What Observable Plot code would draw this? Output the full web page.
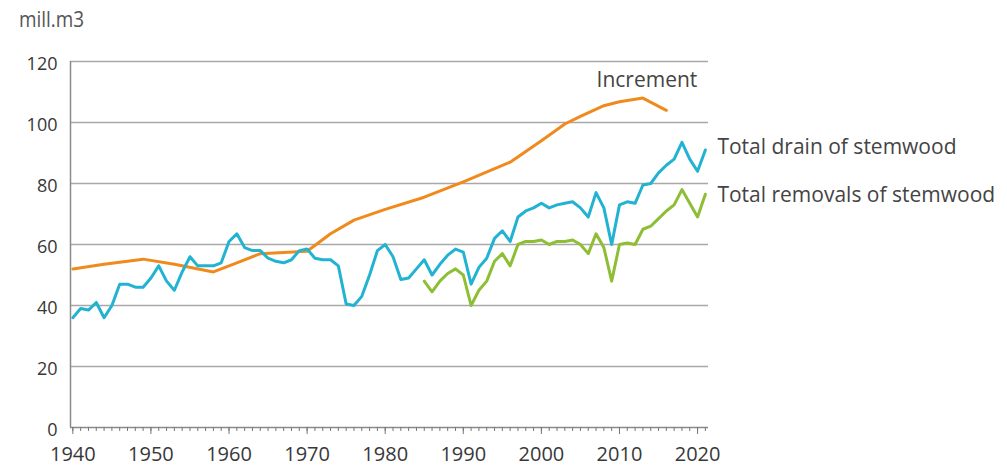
<!DOCTYPE html>
<html>
<head>
<meta charset="utf-8">
<script src="https://cdn.jsdelivr.net/npm/d3@7"></script>
<script src="https://cdn.jsdelivr.net/npm/@observablehq/plot@0.6"></script>
<style>
  html, body { margin: 0; padding: 0; background: #fff; }
  #wrap { position: relative; width: 1007px; height: 471px; }
  #unit { position: absolute; left: 19px; top: 5px; font-family: "Open Sans", sans-serif; font-size: 21px; color: #555; transform: scaleX(0.9); transform-origin: left top; }
  svg { font-family: "Open Sans", sans-serif; }
</style>
</head>
<body>
<div id="wrap"><div id="unit">mill.m3</div><div id="chart"></div></div>
<script>
// Total drain of stemwood (mill. m3), 1940–2021
const drainYears = d3.range(1940, 2022);
const drainValues = [
  36, 39, 38.5, 41, 36, 40, 47, 47, 46, 46,
  49, 53, 48, 45, 51, 56, 53, 53, 53, 54,
  61, 63.5, 59, 58, 58, 55.5, 54.5, 54, 55, 58,
  58.5, 55.5, 55, 55, 53, 40.5, 40, 43, 50, 58,
  60, 56, 48.5, 49, 52, 55, 50, 53.5, 56.5, 58.5,
  57.5, 47, 52.5, 55.5, 62, 64.5, 61, 69, 71, 72,
  73.5, 72, 73, 73.5, 74, 72, 69, 77, 72, 60,
  73, 74, 73.5, 79.5, 80, 83.5, 86, 88, 93.5, 88,
  84, 91
];
// Total removals of stemwood (mill. m3), 1985–2021
const removalYears = d3.range(1985, 2022);
const removalValues = [
  48, 44.5, 48, 50.5, 52, 50, 40, 45, 48, 54.5,
  57, 53, 60, 61, 61, 61.5, 60, 61, 61, 61.5,
  60, 57, 63.5, 59, 48, 60, 60.5, 60, 65, 66,
  68.5, 71, 73, 78, 73.5, 69, 76.5
];
// Increment (mill. m3)
const incrementYears = [1940, 1944, 1949, 1953, 1958, 1961, 1964, 1970, 1973, 1976, 1980, 1985, 1990, 1996, 2000, 2003, 2005, 2008, 2010, 2013, 2016];
const incrementValues = [52, 53.5, 55.2, 53.5, 51, 54, 57, 57.8, 63.5, 68, 71.5, 75.5, 80.5, 87, 94, 99.5, 102, 105.5, 106.8, 108, 104];

const yTicks = [0, 20, 40, 60, 80, 100, 120];
const xMajorTicks = [1940, 1950, 1960, 1970, 1980, 1990, 2000, 2010, 2020];
const xMinorTicks = d3.range(1940, 2022);
const xDomain = [1939.7, 2021.4];
const yDomain = [0, 120];

const seriesNames = ["Increment", "Total drain of stemwood", "Total removals of stemwood"];
const seriesColors = ["#F08A1C", "#22B3D2", "#8DBE34"];

const drain = drainYears.map((year, i) => ({year, value: drainValues[i]}));
const removals = removalYears.map((year, i) => ({year, value: removalValues[i]}));
const increment = incrementYears.map((year, i) => ({year, value: incrementValues[i]}));

const incPeak = increment.reduce((a, b) => (b.value > a.value ? b : a));
const drainEnd = {...drain[drain.length - 1], name: seriesNames[1]};
const removalEnd = {...removals[removals.length - 1], name: seriesNames[2]};

const labelStyle = {fontSize: 21, fill: "#444"};

const chart = Plot.plot({
  width: 1007,
  height: 471,
  marginLeft: 70,
  marginRight: 299,
  marginTop: 61,
  marginBottom: 44,
  x: {domain: xDomain},
  y: {domain: yDomain},
  style: {fontSize: "18px", color: "#333", background: "transparent"},
  marks: [
    Plot.ruleY(yTicks.filter(d => d > 0), {stroke: "#a8a8a8", strokeWidth: 1.3}),
    Plot.ruleX([xDomain[0]], {stroke: "#8a8a8a", strokeWidth: 1.5}),
    Plot.ruleY([0], {stroke: "#8a8a8a", strokeWidth: 1.5}),
    Plot.axisY({ticks: yTicks, tickSize: 0, tickPadding: 13, dy: 3, label: null, fill: "#383838"}),
    Plot.axisX({ticks: xMinorTicks, tickSize: 4, text: null, label: null, stroke: "#777"}),
    Plot.axisX({ticks: xMajorTicks, tickSize: 7, tickPadding: 12, fontSize: 20, tickFormat: d => String(d), label: null, stroke: "#777", fill: "#383838"}),
    Plot.line(increment, {x: "year", y: "value", stroke: seriesColors[0], strokeWidth: 3}),
    Plot.line(drain, {x: "year", y: "value", stroke: seriesColors[1], strokeWidth: 3}),
    Plot.line(removals, {x: "year", y: "value", stroke: seriesColors[2], strokeWidth: 3}),
    Plot.text([incPeak], {x: "year", y: "value", text: () => seriesNames[0], dx: 4, dy: -18, textAnchor: "middle", ...labelStyle}),
    Plot.text([drainEnd], {x: "year", y: "value", text: "name", dx: 12, dy: -3, textAnchor: "start", ...labelStyle}),
    Plot.text([removalEnd], {x: "year", y: "value", text: "name", dx: 12, dy: 1, textAnchor: "start", ...labelStyle})
  ]
});
document.getElementById("chart").appendChild(chart);
</script>
</body>
</html>
